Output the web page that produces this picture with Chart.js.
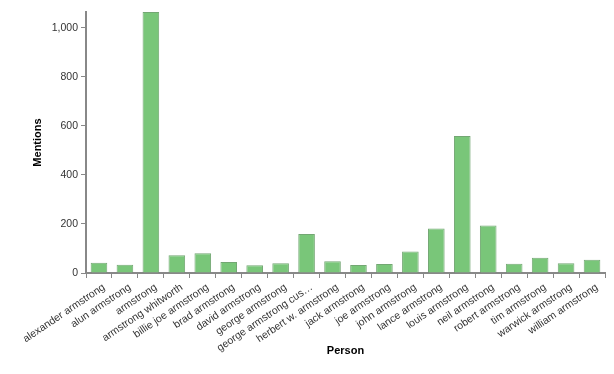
<!DOCTYPE html>
<html>
<head>
<meta charset="utf-8">
<script src="https://cdn.jsdelivr.net/npm/chart.js@4/dist/chart.umd.min.js"></script>
<style>
  html, body { margin: 0; padding: 0; background: #fff; }
  #wrap { width: 614px; height: 374px; position: relative; }
</style>
</head>
<body>
<div id="wrap"><canvas id="c" width="614" height="374"></canvas></div>
<script>
const categories = [
  "alexander armstrong", "alun armstrong", "armstrong", "armstrong whitworth",
  "billie joe armstrong", "brad armstrong", "david armstrong", "george armstrong",
  "george armstrong cus…", "herbert w. armstrong", "jack armstrong", "joe armstrong",
  "john armstrong", "lance armstrong", "louis armstrong", "neil armstrong",
  "robert armstrong", "tim armstrong", "warwick armstrong", "william armstrong"
];
const mentions = [42, 34, 1065, 72, 81, 45, 32, 40, 159, 48, 33, 37, 88, 182, 559, 194, 38, 62, 40, 54];
const yTicks = [0, 200, 400, 600, 800, 1000];
const yMax = 1065;

const axisGray = '#888888';
const font = "'Liberation Sans', Arial, sans-serif";

new Chart(document.getElementById('c'), {
  type: 'bar',
  data: {
    labels: categories,
    datasets: [{
      label: 'Mentions',
      data: mentions,
      backgroundColor: '#79c679',
      borderColor: 'rgba(80,145,80,0.8)',
      borderWidth: 1,
      borderSkipped: 'bottom',
      barPercentage: 0.64,
      categoryPercentage: 1.0
    }]
  },
  options: {
    responsive: false,
    animation: false,
    devicePixelRatio: 1,
    layout: { padding: { left: 0, right: 9, top: 12, bottom: 12 } },
    plugins: { legend: { display: false }, tooltip: { enabled: false } },
    scales: {
      x: {
        type: 'category',
        offset: true,
        grid: { display: true, drawOnChartArea: false, drawTicks: true, tickLength: 5, color: axisGray, lineWidth: 1 },
        border: { display: true, color: axisGray, width: 2 },
        ticks: {
          autoSkip: false,
          minRotation: 34,
          maxRotation: 34,
          padding: 3,
          labelOffset: 5,
          color: '#333',
          font: { family: font, size: 10.5 }
        },
        title: {
          display: true,
          text: 'Person',
          color: '#000',
          font: { family: font, size: 11, weight: 'bold' },
          padding: { top: 4, bottom: 4 }
        },
        afterFit: (s) => { s.height = 374 - 12 - 273; }
      },
      y: {
        type: 'linear',
        min: 0,
        max: yMax,
        afterBuildTicks: (s) => { s.ticks = yTicks.map(v => ({ value: v })); },
        grid: { display: true, drawOnChartArea: false, drawTicks: true, tickLength: 5, color: axisGray, lineWidth: 1 },
        border: { display: true, color: axisGray, width: 2 },
        ticks: {
          includeBounds: false,
          padding: 3,
          color: '#333',
          font: { family: font, size: 10.5 }
        },
        title: {
          display: true,
          text: 'Mentions',
          color: '#000',
          font: { family: font, size: 11, weight: 'bold' },
          padding: { top: 31, bottom: 0 }
        },
        afterFit: (s) => { s.width = 86; }
      }
    }
  }
});
</script>
</body>
</html>
